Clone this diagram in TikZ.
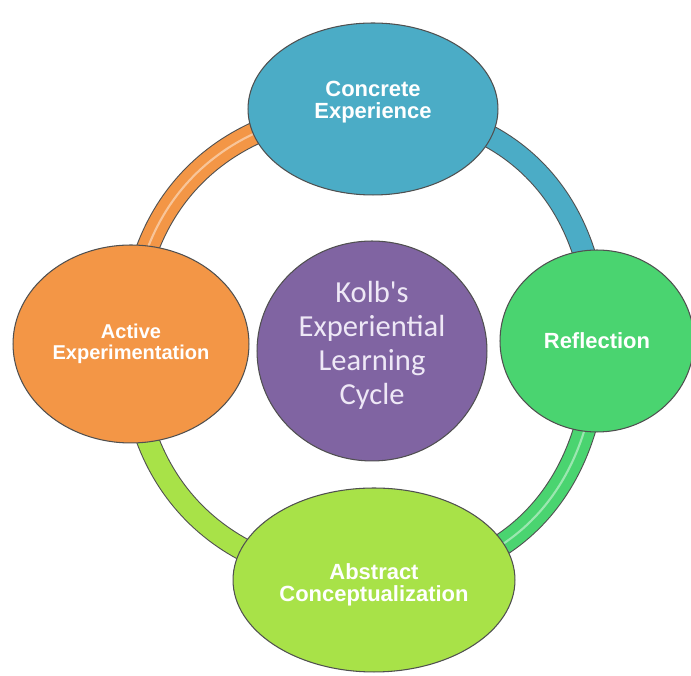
\documentclass[tikz,border=0pt]{standalone}
\usepackage{fontspec}
\usepackage{tikz}
\usetikzlibrary{shapes.geometric,backgrounds}
\newfontfamily\stagefont{Liberation Sans}
\newfontfamily\hubfont{Carlito}

\definecolor{ceblue}{RGB}{75,172,198}
\definecolor{rfgreen}{RGB}{74,212,112}
\definecolor{aclime}{RGB}{168,226,72}
\definecolor{aeorange}{RGB}{243,150,70}
\definecolor{kolbpurple}{RGB}{128,100,162}
\definecolor{rimgray}{RGB}{80,80,80}
\definecolor{hubtext}{RGB}{238,232,246}

\tikzset{
    stage/.style={
        ellipse,
        draw=rimgray,
        line width=0.6pt,
        text=white,
        align=center,
        inner sep=0pt,
        font=\stagefont\bfseries\fontsize{12.5}{12.8}\selectfont
    },
    link/.style={
        draw=rimgray,
        line width=0.6pt,
        double=#1,
        double distance=0.42cm,
        looseness=1.1
    },
    sheen/.style={
        draw=white,
        draw opacity=0.45,
        line width=1.2pt,
        looseness=1.1
    }
}

\begin{document}
\begin{tikzpicture}[x=0.02cm,y=0.02cm]
\useasboundingbox (0,0) rectangle (691,676);

\node[
    stage,
    fill=ceblue,
    minimum width=5cm,
    minimum height=3.44cm,
    text depth=0.36cm
] (ce) at (373,567)
{Concrete\\Experience};

\node[
    stage,
    fill=rfgreen,
    minimum width=3.88cm,
    minimum height=3.64cm
] (rf) at (597,335)
{Reflection};

\node[
    stage,
    fill=aclime,
    minimum width=5.64cm,
    minimum height=3.68cm,
    text height=0.96cm
] (ac) at (374,96)
{Abstract\\Conceptualization};

\node[
    stage,
    fill=aeorange,
    minimum width=4.72cm,
    minimum height=3.96cm,
    font=\stagefont\bfseries\fontsize{11.4}{11.8}\selectfont
] (ae) at (131,332)
{Active\\Experimentation};

\node[
    ellipse,
    draw=rimgray,
    line width=0.6pt,
    fill=kolbpurple,
    minimum width=4.6cm,
    minimum height=4.4cm,
    text=hubtext,
    align=center,
    text depth=0.32cm,
    font=\hubfont\fontsize{17.4}{19.4}\selectfont
] (kolb) at (372,325)
{Kolb\textquotesingle s\\Experiential\\Learning\\Cycle};

\begin{scope}[on background layer]
\draw[link=ceblue] (ce.center) to[out=0,in=90] (rf.center);
\draw[link=rfgreen] (rf.center) to[out=-90,in=0] (ac.center);
\draw[link=aclime] (ac.center) to[out=180,in=-90] (ae.center);
\draw[link=aeorange] (ae.center) to[out=90,in=180] (ce.center);
\draw[sheen] (rf.center) to[out=-90,in=0] (ac.center);
\draw[sheen] (ae.center) to[out=90,in=180] (ce.center);
\end{scope}

\end{tikzpicture}
\end{document}
